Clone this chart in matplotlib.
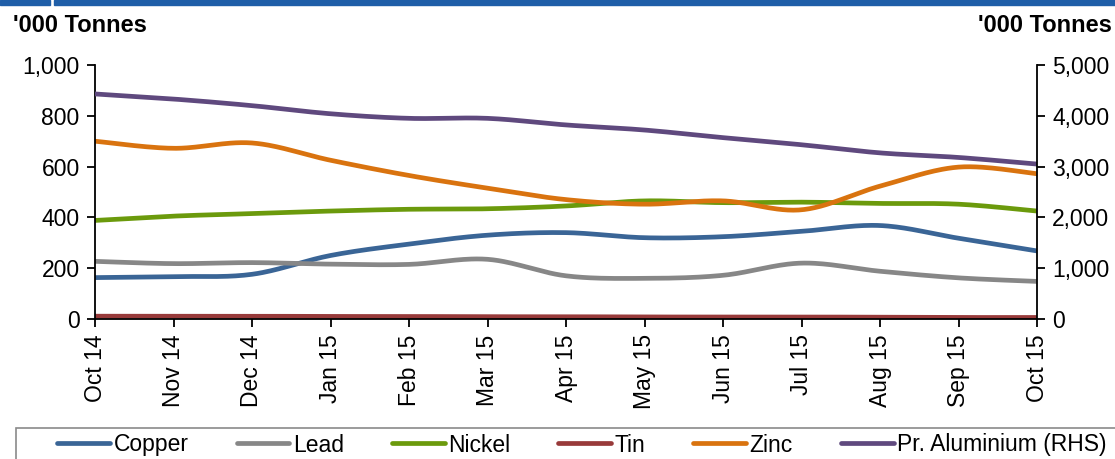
import numpy as np
import matplotlib.pyplot as plt
from matplotlib.patches import Rectangle
from matplotlib.ticker import FuncFormatter

plt.rcParams['font.family'] = ['Liberation Sans', 'DejaVu Sans']

months = ['Oct 14', 'Nov 14', 'Dec 14', 'Jan 15', 'Feb 15', 'Mar 15', 'Apr 15',
          'May 15', 'Jun 15', 'Jul 15', 'Aug 15', 'Sep 15', 'Oct 15']
copper = [163, 167, 176, 250, 295, 330, 340, 320, 324, 345, 368, 318, 268]
lead = [227, 218, 222, 216, 215, 235, 170, 160, 172, 220, 188, 162, 148]
nickel = [388, 405, 415, 425, 432, 434, 445, 465, 458, 460, 455, 452, 425]
tin = [11, 11, 11, 10, 10, 9, 9, 8, 8, 8, 7, 6, 6]
zinc = [700, 672, 693, 625, 565, 515, 470, 452, 465, 430, 523, 598, 572]
aluminium = [4430, 4330, 4200, 4040, 3950, 3950, 3820, 3720, 3570, 3430, 3270, 3180, 3050]


def smooth(y, n=30):
    # excel-style smoothed line: cubic bezier through each point
    y = np.asarray(y, dtype=float)
    x = np.arange(len(y), dtype=float)
    px = np.concatenate([[x[0]], x, [x[-1]]])
    py = np.concatenate([[y[0]], y, [y[-1]]])
    xs, ys = [], []
    t = np.linspace(0, 1, n)
    for i in range(len(y) - 1):
        p0 = np.array([px[i + 1], py[i + 1]])
        p3 = np.array([px[i + 2], py[i + 2]])
        c1 = p0 + (np.array([px[i + 2], py[i + 2]]) - np.array([px[i], py[i]])) / 6
        c2 = p3 - (np.array([px[i + 3], py[i + 3]]) - np.array([px[i + 1], py[i + 1]])) / 6
        b = ((1 - t) ** 3)[:, None] * p0 + (3 * (1 - t) ** 2 * t)[:, None] * c1 \
            + (3 * (1 - t) * t ** 2)[:, None] * c2 + (t ** 3)[:, None] * p3
        xs.append(b[:, 0])
        ys.append(b[:, 1])
    return np.concatenate(xs), np.concatenate(ys)


fig = plt.figure(figsize=(11.15, 4.59), dpi=100)
ax = fig.add_axes([95 / 1115, 140 / 459, 942 / 1115, 254 / 459])
ax2 = ax.twinx()

lw = 3.4
series = [
    ('Copper', copper, '#3a6596'),
    ('Lead', lead, '#878787'),
    ('Nickel', nickel, '#6b9a0c'),
    ('Tin', tin, '#983a3a'),
    ('Zinc', zinc, '#d9730f'),
]
handles = []
for name, vals, col in series:
    sx, sy = smooth(vals)
    h, = ax.plot(sx, sy, color=col, lw=lw, solid_capstyle='round', label=name)
    handles.append(h)
sx, sy = smooth(aluminium)
h, = ax2.plot(sx, sy, color='#5f497e', lw=lw, solid_capstyle='round', label='Pr. Aluminium (RHS)')
handles.append(h)

ax.set_xlim(0, len(months) - 1)
ax.set_ylim(0, 1000)
ax2.set_ylim(0, 5000)
ax.set_yticks(range(0, 1001, 200))
ax2.set_yticks(range(0, 5001, 1000))
fmt = FuncFormatter(lambda v, p: f'{int(v):,}')
ax.yaxis.set_major_formatter(fmt)
ax2.yaxis.set_major_formatter(fmt)
ax.set_xticks(range(len(months)))
ax.set_xticklabels(months, rotation=90)

for a in (ax, ax2):
    a.spines['top'].set_visible(False)
    for s in a.spines.values():
        s.set_linewidth(1.3)
        s.set_color('black')
    a.tick_params(length=6, width=1.3, labelsize=16.5, pad=5)
ax2.spines['left'].set_visible(False)
ax2.spines['bottom'].set_visible(False)
ax.spines['right'].set_visible(False)

fig.text(13 / 1115, 1 - 25 / 459, "'000 Tonnes", fontsize=17, fontweight='bold', va='center', ha='left')
fig.text(1112 / 1115, 1 - 25 / 459, "'000 Tonnes", fontsize=17, fontweight='bold', va='center', ha='right')

# header strip
fig.patches.append(Rectangle((0, 1 - 5 / 459), 50 / 1115, 5 / 459, transform=fig.transFigure,
                             color='#1f5ea8', zorder=0))
fig.patches.append(Rectangle((54 / 1115, 1 - 5 / 459), 1, 5 / 459, transform=fig.transFigure,
                             color='#1f5ea8', zorder=0))

# legend box
fig.patches.append(Rectangle((16 / 1115, -0.01), 1.1, (459 - 428) / 459 + 0.01,
                             transform=fig.transFigure, facecolor='white',
                             edgecolor='#8a8a8a', lw=1.2, zorder=0))
fig.legend(handles=handles, loc='center', bbox_to_anchor=(0.522, 1 - 445 / 459), ncol=6,
           frameon=False, fontsize=16.5, handlelength=2.3, handletextpad=0.15,
           columnspacing=2.1, borderaxespad=0)

fig.savefig('out.png', dpi=100)
